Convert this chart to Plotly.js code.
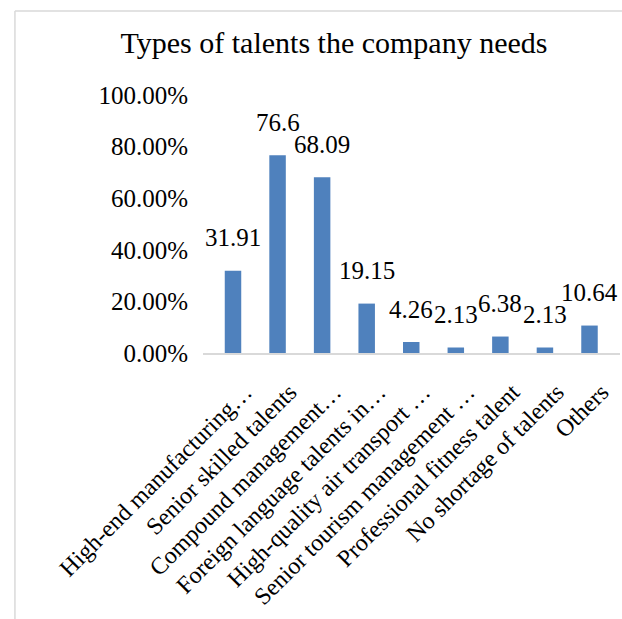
<!DOCTYPE html>
<html>
<head>
<meta charset="utf-8">
<script src="https://cdn.plot.ly/plotly-3.0.1.min.js"></script>
<style>html,body{margin:0;padding:0;background:#fff;}#chart{width:622px;height:619px;}</style>
</head>
<body>
<div id="chart"></div>
<script>
const categories = [
  "High-end manufacturing…",
  "Senior skilled talents",
  "Compound management…",
  "Foreign language talents in…",
  "High-quality air transport …",
  "Senior tourism management …",
  "Professional fitness talent",
  "No shortage of talents",
  "Others"
];
const shares = [0.3191, 0.766, 0.6809, 0.1915, 0.0426, 0.0213, 0.0638, 0.0213, 0.1064];
const labels = ["31.91", "76.6", "68.09", "19.15", "4.26", "2.13", "6.38", "2.13", "10.64"];
const yTicks = [0, 0.2, 0.4, 0.6, 0.8, 1.0];

const font = "Liberation Serif, Times New Roman, serif";

const trace = {
  type: "bar",
  x: categories,
  y: shares,
  marker: {color: "#4f81bd"},
  hoverinfo: "none"
};

const annotations = categories.map((c, i) => ({
  x: c, y: shares[i], xref: "x", yref: "y",
  text: labels[i], showarrow: false,
  yanchor: "middle", yshift: 33,
  font: {family: font, size: 25, color: "#000"}
}));

const layout = {
  width: 622, height: 619,
  margin: {l: 203, r: 2, t: 95, b: 266},
  paper_bgcolor: "#fff", plot_bgcolor: "#fff",
  showlegend: false,
  bargap: 0.63,
  title: {
    text: "Types of talents the company needs",
    font: {family: font, size: 30, color: "#000"},
    x: 0.537, xref: "container", xanchor: "center",
    y: 0.932, yref: "container", yanchor: "middle"
  },
  xaxis: {
    type: "category",
    tickangle: -45,
    tickfont: {family: font, size: 24, color: "#000"},
    showline: true, linecolor: "#d9d9d9", linewidth: 1.5,
    showgrid: false, zeroline: false, ticks: "",
    ticklabelstandoff: 14, ticklabelshift: 12,
    fixedrange: true
  },
  yaxis: {
    range: [0, 1],
    tickvals: yTicks,
    tickformat: ".2%",
    tickfont: {family: font, size: 25, color: "#000"},
    showline: false, showgrid: false, zeroline: false,
    ticks: "", ticklabelstandoff: 14,
    fixedrange: true
  },
  annotations: annotations,
  shapes: [
    {type: "line", xref: "paper", yref: "paper", x0: -0.451, x1: 1.01, y0: 1.326, y1: 1.326,
     line: {color: "#d9d9d9", width: 1.5}},
    {type: "line", xref: "paper", yref: "paper", x0: -0.451, x1: -0.451, y0: 1.326, y1: -1.05,
     line: {color: "#d9d9d9", width: 1.5}}
  ]
};

Plotly.newPlot("chart", [trace], layout, {displayModeBar: false, staticPlot: true});
</script>
</body>
</html>
